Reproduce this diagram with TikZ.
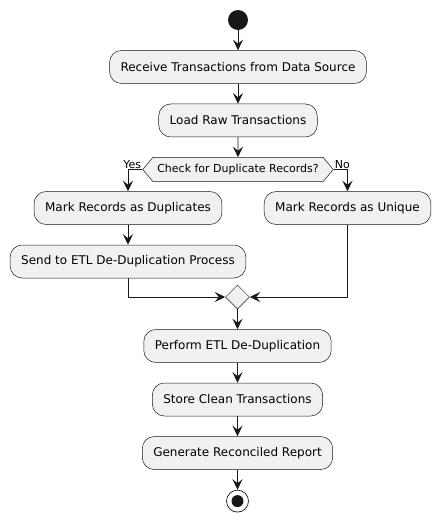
\documentclass[tikz,border=0pt]{standalone}
\usepackage{fontspec}
\setmainfont{DejaVu Sans}
\usetikzlibrary{positioning,arrows.meta,shapes.geometric,shapes.symbols}
\definecolor{actfill}{HTML}{F1F1F1}
\definecolor{actline}{HTML}{181818}

\begin{document}
\begin{tikzpicture}[x=1pt, y=1pt,
  node distance=20pt,
  act/.style={draw=actline, fill=actfill, rounded corners=12pt, minimum height=33pt, inner xsep=11pt, line width=0.5pt, font=\fontsize{12}{14}\selectfont},
  hexa/.style={signal, signal to=west and east, signal pointer angle=100, draw=actline, fill=actfill, minimum height=24pt, inner xsep=4.5pt, line width=0.5pt, font=\fontsize{11}{13}\selectfont},
  merge/.style={diamond, draw=actline, fill=actfill, minimum width=24pt, minimum height=24pt, inner sep=0pt, line width=0.5pt},
  lbl/.style={font=\fontsize{11}{13}\selectfont, inner sep=1pt},
  flow/.style={draw=actline, line width=0.9pt, -{Stealth[length=10.5pt,width=10pt,inset=4pt]}}]
\useasboundingbox (0,0) rectangle (440,-523);
\node[circle, fill=actline, minimum size=20pt, inner sep=0pt] (start) at (238,-20) {};
\node[act, below=of start] (recv) {Receive Transactions from Data Source};
\node[act, below=of recv] (load) {Load Raw Transactions};
\node[hexa, below=of load] (chk) {Check for Duplicate Records?};
\node[act] (dup) at (128,-208) {Mark Records as Duplicates};
\node[act] (uniq) at (347.5,-208) {Mark Records as Unique};
\node[act, below=of dup] (send) {Send to ETL De-Duplication Process};
\node[merge] (mrg) at (237.5,-297) {};
\node[act, below=of mrg] (perf) {Perform ETL De-Duplication};
\node[act, below=of perf] (store) {Store Clean Transactions};
\node[act, below=of store] (rep) {Generate Reconciled Report};
\node[circle, draw=actline, line width=0.7pt, minimum size=22pt, inner sep=0pt, below=of rep] (stop) {};
\node[circle, fill=actline, minimum size=12pt, inner sep=0pt] (stopdot) at (stop.center) {};
\node[lbl, anchor=south east] (yes) at (chk.west) {Yes};
\node[lbl, anchor=south west] (no) at (chk.east) {No};
\foreach \a/\b in {start/recv,recv/load,load/chk,dup/send,mrg/perf,perf/store,store/rep,rep/stop}
  \draw[flow] (\a) -- (\b);
\draw[flow] (chk.west) -| (dup.north);
\draw[flow] (chk.east) -| (uniq.north);
\draw[flow] (send.south) |- (mrg.west);
\draw[flow] (uniq.south) |- (mrg.east);
\end{tikzpicture}
\end{document}
